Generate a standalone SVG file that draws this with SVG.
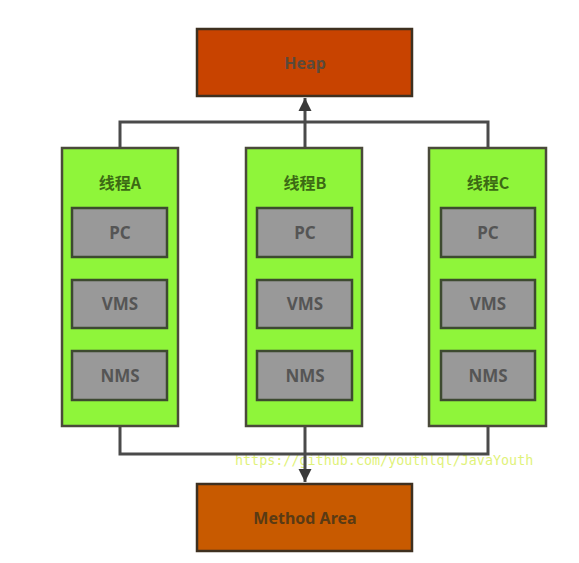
<svg xmlns="http://www.w3.org/2000/svg" width="579" height="563" viewBox="0 0 579 563">
<defs>
<style>
.thread{fill:#8ff53a;stroke:#4a4a3a;stroke-width:2.5}
.box{fill:#999999;stroke:#3d4a30;stroke-width:2.5}
.lbl{font-family:"Noto Sans","Noto Sans CJK SC",sans-serif;font-weight:bold;font-size:17px;fill:#555555;text-anchor:middle}
.tl{font-family:"Noto Sans CJK SC","Noto Sans",sans-serif;font-weight:bold;font-size:16px;fill:#3c6a14;text-anchor:middle}
.mem{stroke:#3e3020;stroke-width:2.5}
.mt{font-family:"Noto Sans",sans-serif;font-weight:bold;font-size:16px;text-anchor:middle}
.conn{fill:none;stroke:#4a4a4a;stroke-width:3}
.wm{font-family:"DejaVu Sans Mono","Liberation Mono",monospace;font-size:13.4px;fill:#dff27a}
</style>
<marker id="arr" viewBox="0 0 10 10" refX="10" refY="5" markerWidth="4.4" markerHeight="4.4" orient="auto" markerUnits="strokeWidth">
<path d="M0,0 L10,5 L0,10 z" fill="#3a3a3a"/>
</marker>
</defs>
<rect width="579" height="563" fill="#ffffff"/>
<text class="wm" x="235" y="465">https://github.com/youthlql/JavaYouth</text>
<g id="connectors">
<path class="conn" d="M120,148 V122 H488 V148"/>
<path class="conn" d="M305,148 V98" marker-end="url(#arr)"/>
<path class="conn" d="M120,426 V454 H488 V426"/>
<path class="conn" d="M305,426 V482" marker-end="url(#arr)"/>
</g>
<g id="heap">
<rect class="mem" x="197" y="29" width="215" height="67" fill="#c84300"/>
<text class="mt" x="305" y="69" fill="#5a4a3a">Heap</text>
</g>
<g id="method-area">
<rect class="mem" x="197" y="484" width="215" height="67" fill="#c85a00"/>
<text class="mt" x="305" y="524" fill="#5a3a14">Method Area</text>
</g>
<g id="thread-a">
<rect class="thread" x="62" y="148" width="116" height="278"/>
<text class="tl" x="120" y="189">线程A</text>
<rect class="box" x="72" y="208" width="95" height="49"/>
<text class="lbl" x="120" y="239">PC</text>
<rect class="box" x="72" y="280" width="95" height="48"/>
<text class="lbl" x="120" y="310">VMS</text>
<rect class="box" x="72" y="351" width="95" height="49"/>
<text class="lbl" x="120" y="382">NMS</text>
</g>
<g id="thread-b">
<rect class="thread" x="246" y="148" width="116" height="278"/>
<text class="tl" x="305" y="189">线程B</text>
<rect class="box" x="257" y="208" width="95" height="49"/>
<text class="lbl" x="305" y="239">PC</text>
<rect class="box" x="257" y="280" width="95" height="48"/>
<text class="lbl" x="305" y="310">VMS</text>
<rect class="box" x="257" y="351" width="95" height="49"/>
<text class="lbl" x="305" y="382">NMS</text>
</g>
<g id="thread-c">
<rect class="thread" x="429" y="148" width="117" height="278"/>
<text class="tl" x="488" y="189">线程C</text>
<rect class="box" x="441" y="208" width="94" height="49"/>
<text class="lbl" x="488" y="239">PC</text>
<rect class="box" x="441" y="280" width="94" height="48"/>
<text class="lbl" x="488" y="310">VMS</text>
<rect class="box" x="441" y="351" width="94" height="49"/>
<text class="lbl" x="488" y="382">NMS</text>
</g>
</svg>
